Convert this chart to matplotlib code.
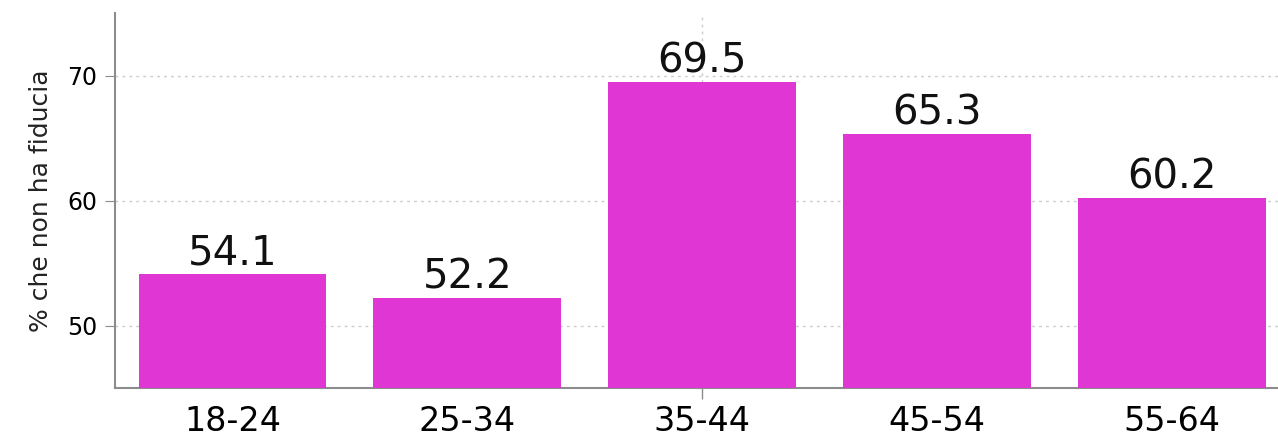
import numpy as np
import matplotlib.pyplot as plt

plt.rcParams["font.family"] = ["DejaVu Sans"]

age_groups = ["18-24", "25-34", "35-44", "45-54", "55-64"]
no_trust_pct = [54.1, 52.2, 69.5, 65.3, 60.2]
y_ticks = [50, 60, 70]

bar_color = "#e037d4"
axis_color = "#8c8c8c"

fig = plt.figure(figsize=(12.78, 4.37), dpi=100)
ax = fig.add_axes([0.09, 0.112, 0.91, 0.858])

x = np.arange(len(age_groups))
bars = ax.bar(x, no_trust_pct, width=0.8, color=bar_color, zorder=3)

for rect, val in zip(bars, no_trust_pct):
    ax.text(rect.get_x() + rect.get_width() / 2, val + 0.05, f"{val:.1f}",
            ha="center", va="bottom", fontsize=29, color="#111111", zorder=4)

ax.set_xlim(-0.5, 4.45)
ax.set_ylim(45, 75)

ax.set_xticks(x)
ax.set_xticklabels(age_groups, fontsize=24)
ax.tick_params(axis="x", which="major", length=0, pad=12)
# only the middle category carries a tick and a vertical grid line
ax.xaxis.remove_overlapping_locs = False
ax.set_xticks([2], minor=True)
ax.tick_params(axis="x", which="minor", length=8, color=axis_color, width=1)
ax.xaxis.grid(True, which="minor", linestyle=(0, (2, 3)), color="#cccccc", linewidth=1)

ax.set_yticks(y_ticks)
ax.tick_params(axis="y", labelsize=17, length=7, color=axis_color, pad=6)
ax.yaxis.grid(True, linestyle=(0, (2, 3)), color="#cccccc", linewidth=1)
ax.set_axisbelow(True)

ax.set_ylabel("% che non ha fiducia", fontsize=18, color="#222222", labelpad=10)

for side in ["top", "right"]:
    ax.spines[side].set_visible(False)
for side in ["left", "bottom"]:
    ax.spines[side].set_color(axis_color)
    ax.spines[side].set_linewidth(1.5)

fig.savefig("out.png", dpi=100)
plt.close(fig)
